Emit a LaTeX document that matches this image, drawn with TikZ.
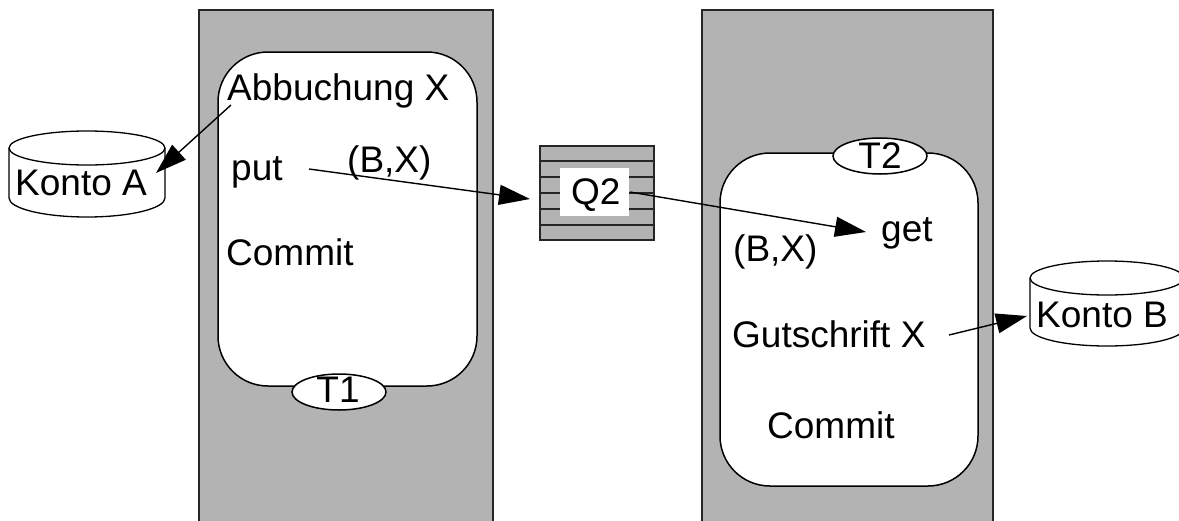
\documentclass[tikz,border=0pt]{standalone}
\usepackage{fontspec}
\setmainfont{Liberation Sans}
\usetikzlibrary{arrows.meta}
\definecolor{panelgray}{HTML}{B3B3B3}
\tikzset{
  lbl/.style={anchor=base west,inner sep=0pt,font=\fontsize{37}{40}\selectfont,text=black},
  lblc/.style={anchor=base,inner sep=0pt,font=\fontsize{37}{40}\selectfont,text=black},
  panel/.style={draw=black!85,fill=panelgray,line width=1.5pt},
  txbox/.style={draw=black,fill=white,line width=1.5pt,rounded corners=50pt},
  tag/.style={draw=black,fill=white,line width=1.5pt},
  cyl/.style={draw=black,fill=white,line width=1.3pt},
  qline/.style={draw=black!85,line width=1.3pt},
  flow/.style={draw=black,line width=1.4pt,-{Triangle[length=31pt,width=20pt]},shorten >=0pt}
}
\begin{document}
\begin{tikzpicture}[x=1pt,y=-1pt]
\useasboundingbox (0,0) rectangle (1179,520);
\clip (0,0) rectangle (1179,520);
% panels
\path[panel] (199,10) rectangle (493,530);
\path[panel] (702,10) rectangle (993,530);
% transactions
\path[txbox] (218,52) rectangle (477,386);
\path[txbox] (720,153) rectangle (978,486);
\path[tag] (339,392) ellipse [x radius=47,y radius=18];
\path[tag] (880,156) ellipse [x radius=47,y radius=18];
\node[lblc] (t1) at (338,402) {T1};
\node[lblc] (t2) at (880,168) {T2};
% cylinder A
\path[cyl] (9,148) -- (9,198) .. controls (9,208.5) and (44,217) .. (87,217) .. controls (130,217) and (165,208.5) .. (165,198) -- (165,148);
\path[cyl] (87,148) ellipse [x radius=78,y radius=17];
% cylinder B
\path[cyl] (1030,278) -- (1030,328) .. controls (1030,338) and (1064,346) .. (1107,346) .. controls (1150,346) and (1184,338) .. (1184,328) -- (1184,278);
\path[cyl] (1107,278) ellipse [x radius=77,y radius=17];
% queue
\path[draw=black!85,fill=panelgray,line width=1.5pt] (540,146) rectangle (654,240);
\foreach \y in {161,177,193,209,225} \draw[qline] (540,\y) -- (654,\y);
\path[fill=white] (560,168) rectangle (629,216);
% texts
\node[lbl] (abb) at (227,100) {Abbuchung X};
\node[lbl] (put) at (231,180) {put};
\node[lbl] (bx1) at (347,172) {(B,X)};
\node[lbl] (com1) at (226,265) {Commit};
\node[lbl] (konA) at (15,195) {Konto A};
\node[lbl] (q2) at (571,204) {Q2};
\node[lbl] (get) at (881,241) {get};
\node[lbl] (bx2) at (733,261) {(B,X)};
\node[lbl] (gut) at (732,347) {Gutschrift X};
\node[lbl] (com2) at (767,438) {Commit};
\node[lbl] (konB) at (1036,327) {Konto B};
% connector ends
\coordinate (a1) at (231,105);
\coordinate (a2) at (156,173);
\coordinate (b1) at (309,169);
\coordinate (b2) at (530,199);
\coordinate (c1) at (630,192);
\coordinate (c2) at (866,232);
\coordinate (d1) at (949,335);
\coordinate (d2) at (1027,316);
\draw[flow] (a1) -- (a2);
\draw[flow] (b1) -- (b2);
\draw[flow] (c1) -- (c2);
\draw[flow] (d1) -- (d2);
\end{tikzpicture}
\end{document}
